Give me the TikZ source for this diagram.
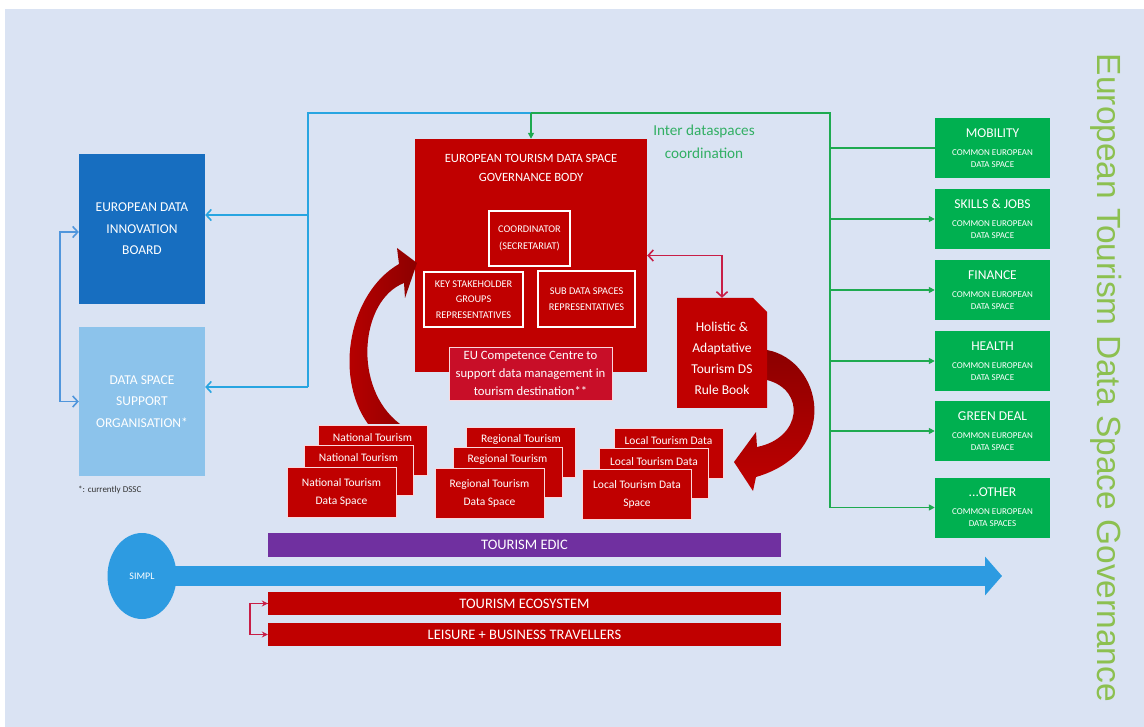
\documentclass[tikz,border=0pt]{standalone}
\usepackage{fontspec}
\setmainfont{Carlito}
\newfontfamily\arialf{Liberation Sans}
\usetikzlibrary{arrows.meta,shapes.geometric}
\definecolor{bgc}{RGB}{218,227,243}
\definecolor{edibc}{RGB}{23,110,192}
\definecolor{dssoc}{RGB}{140,195,235}
\definecolor{bluec}{RGB}{40,165,225}
\definecolor{lbluec}{RGB}{80,150,220}
\definecolor{redA}{RGB}{192,0,0}
\definecolor{redB}{RGB}{200,14,40}
\definecolor{redD}{RGB}{140,0,0}
\definecolor{crim}{RGB}{200,30,70}
\definecolor{pinkl}{RGB}{250,215,220}
\definecolor{purp}{RGB}{112,48,160}
\definecolor{greenb}{RGB}{0,176,80}
\definecolor{greenl}{RGB}{30,170,80}
\definecolor{greent}{RGB}{50,175,100}
\definecolor{titleg}{RGB}{140,192,80}
\definecolor{simplc}{RGB}{45,155,225}
\newcommand{\gtt}{\fontsize{13.5}{15}\selectfont}
\newcommand{\gss}{\fontsize{9}{13}\selectfont}
\tikzset{
  box/.style={rectangle, inner sep=0pt, align=center, text=white},
  card/.style={box, fill=redA, draw=pinkl, line width=0.8pt, minimum width=109pt, minimum height=50pt, font=\fontsize{11.5}{18}\selectfont},
  cardtxt/.style={inner sep=0pt, text=white, font=\fontsize{11.5}{18}\selectfont},
  gbox/.style={box, fill=greenb, minimum width=115pt, minimum height=60pt},
  wbox/.style={box, draw=white, line width=1.3pt, font=\fontsize{10.3}{15.5}\selectfont},
  bar/.style={box, minimum width=513pt, font=\fontsize{14.5}{16}\selectfont},
  blc/.style={draw=bluec, line width=1.6pt},
  lblc/.style={draw=lbluec, line width=1.6pt},
  grc/.style={draw=greenl, line width=1.6pt},
  crc/.style={draw=crim, line width=1.6pt},
  barb/.style={-{Straight Barb[length=5pt,width=11pt]}},
  dbarb/.style={{Straight Barb[length=5pt,width=11pt]}-{Straight Barb[length=5pt,width=11pt]}},
  gtip/.style={-{Triangle[length=6pt,width=6pt]}}
}
\begin{document}
\begin{tikzpicture}[x=1pt,y=-1pt]
\useasboundingbox (0,0) rectangle (1144,727);
\fill[white] (0,0) rectangle (1144,727);
\fill[bgc] (5,9) rectangle (1144,727);

% left boxes
\node[box, fill=edibc, minimum width=126pt, minimum height=150pt, font=\fontsize{13.5}{21.5}\selectfont] (edib) at (142,229) {EUROPEAN DATA\\INNOVATION\\BOARD};
\node[box, fill=dssoc, minimum width=126pt, minimum height=149pt, font=\fontsize{13.5}{21.5}\selectfont] (dsso) at (142,401.5) {DATA SPACE\\SUPPORT\\ORGANISATION*};
\node[anchor=west, inner sep=0pt, font=\fontsize{9}{10}\selectfont, text=black!80] (note) at (78,490) {*: currently DSSC};
\draw[lblc, dbarb] ([yshift=-3pt]edib.west) -- ++(-19,0) |- (dsso.west);

% governance body
\node[box, fill=redA, minimum width=232pt, minimum height=233pt] (gov) at (531,255.5) {};
\node[box, font=\fontsize{12.6}{19}\selectfont] (govt) at (531,167.5) {EUROPEAN TOURISM DATA SPACE\\GOVERNANCE BODY};
\node[wbox, minimum width=81pt, minimum height=55pt, font=\fontsize{10.3}{17.5}\selectfont] (coord) at (529.5,238.5) {COORDINATOR\\(SECRETARIAT)};
\node[wbox, minimum width=99pt, minimum height=55pt] (key) at (473.5,299.5) {KEY STAKEHOLDER\\GROUPS\\REPRESENTATIVES};
\node[wbox, minimum width=97pt, minimum height=56pt] (sub) at (586.5,299) {SUB DATA SPACES\\REPRESENTATIVES};
\node[box, fill=redB, draw=pinkl, line width=0.8pt, minimum width=163pt, minimum height=53pt, font=\fontsize{12.7}{18}\selectfont] (eucc) at (530.5,373.5) {EU Competence Centre to\\support data management in\\tourism destination**};

% connectors top
\coordinate (gc) at (531,113);
\coordinate (bc) at (308,113);
\coordinate (gt) at (830,113);
\coordinate (edibin) at ([yshift=14pt]edib.east);
\coordinate (dssoin) at ([yshift=14.5pt]dsso.east);
\draw[blc] (gc) -- (bc) -- (bc |- dssoin);
\draw[blc, barb] (bc |- edibin) -- (edibin);
\draw[blc, barb] (bc |- dssoin) -- (dssoin);
\draw[grc, gtip] (gc) -- (gov.north);
\node[inner sep=0pt, align=center, text=greent, font=\fontsize{15.2}{23}\selectfont] (inter) at (704,141.5) {Inter dataspaces\\coordination};

% green boxes
\node[gbox] (mob) at (992.5,148) {\gtt MOBILITY\\[6pt]\gss COMMON EUROPEAN\\\gss DATA SPACE};
\node[gbox] (skill) at (992.5,219) {\gtt SKILLS \& JOBS\\[6pt]\gss COMMON EUROPEAN\\\gss DATA SPACE};
\node[gbox] (fin) at (992.5,290) {\gtt FINANCE\\[6pt]\gss COMMON EUROPEAN\\\gss DATA SPACE};
\node[gbox] (health) at (992.5,361) {\gtt HEALTH\\[6pt]\gss COMMON EUROPEAN\\\gss DATA SPACE};
\node[gbox] (green) at (992.5,431) {\gtt GREEN DEAL\\[6pt]\gss COMMON EUROPEAN\\\gss DATA SPACE};
\node[gbox] (other) at (992.5,507.5) {\gtt ...OTHER\\[6pt]\gss COMMON EUROPEAN\\\gss DATA SPACES};
\draw[grc] (gc) -- (gt) -- (gt |- other.west);
\draw[grc] (gt |- mob.west) -- (mob.west);
\draw[grc, gtip] (gt |- skill.west) -- (skill.west);
\draw[grc, gtip] (gt |- fin.west) -- (fin.west);
\draw[grc, gtip] (gt |- health.west) -- (health.west);
\draw[grc, gtip] (gt |- green.west) -- (green.west);
\draw[grc, gtip] (gt |- other.west) -- (other.west);

% curved arrows
\shade[left color=redA, right color=redD] (368,424) .. controls (333,375) and (350,292) .. (399,264) -- (397,248) -- (417,263) -- (405,298) -- (404,283) .. controls (360,300) and (352,388) .. (400,424) -- cycle;
\shade[top color=redD, bottom color=redA] (767,350) .. controls (822,360) and (842,452) .. (756,477) -- (753,491) -- (734,462) -- (756,432) -- (757,447) .. controls (802,438) and (806,390) .. (767,380) -- cycle;

% rule book
\fill[redA] (677,298) -- (753,298) -- (767,312) -- (767,408) -- (677,408) -- cycle;
\node[box, minimum width=90pt, minimum height=110pt] (rb) at (722,353) {};
\node[box, font=\fontsize{13.5}{21}\selectfont] (rbt) at (722,358) {Holistic \&\\Adaptative\\Tourism DS\\Rule Book};
\draw[crc, dbarb] (gov.east) -| (rb.north);

% data space cards (back ones show only their first line)
\node[card] (n1) at (372.5,450) {};
\node[cardtxt] (n1t) at ([yshift=-13pt]n1.north) {National Tourism};
\node[card] (n2) at (358.5,470) {};
\node[cardtxt] (n2t) at ([yshift=-13pt]n2.north) {National Tourism};
\node[card] (n3) at (341.5,492) {National Tourism\\Data Space};
\node[card] (r1) at (521,452) {};
\node[cardtxt] (r1t) at ([yshift=-13pt]r1.north) {Regional Tourism};
\node[card] (r2) at (507.5,472) {};
\node[cardtxt] (r2t) at ([yshift=-13pt]r2.north) {Regional Tourism};
\node[card] (r3) at (489.5,493) {Regional Tourism\\Data Space};
\node[card] (l1) at (668.5,453) {};
\node[cardtxt] (l1t) at ([yshift=-13pt]l1.north) {Local Tourism Data};
\node[card] (l2) at (654,473.5) {};
\node[cardtxt] (l2t) at ([yshift=-13pt]l2.north) {Local Tourism Data};
\node[card] (l3) at (637,494.5) {Local Tourism Data\\Space};

% bottom
\node[bar, fill=purp, minimum height=24pt] (edic) at (524.5,545) {TOURISM EDIC};
\node[ellipse, fill=simplc, minimum width=69pt, minimum height=86pt, inner sep=0pt, text=white, font=\fontsize{10}{12}\selectfont] (simpl) at (142,576) {SIMPL};
\coordinate (simplend) at (1002,576);
\draw[draw=simplc, line width=20pt, -{Triangle[length=17pt,width=38pt]}] ([xshift=-6pt]simpl.east) -- (simplend);
\node[bar, fill=redA, minimum height=23pt] (eco) at (524.5,603.5) {TOURISM ECOSYSTEM};
\node[bar, fill=redA, minimum height=23pt] (leis) at (524.5,634.5) {LEISURE + BUSINESS TRAVELLERS};
\draw[crc, -{Stealth[length=6pt,width=6pt]}] (eco.west) -- ++(-18,0) |- (leis.west);
\draw[crc, -{Stealth[length=6pt,width=6pt]}] ([xshift=-18pt]eco.west) -- (eco.west);

% vertical title
\node[rotate=-90, inner sep=0pt, text=titleg, font=\arialf\fontsize{33.5}{36}\selectfont] (vt) at (1106,378) {European Tourism Data Space Governance};
\end{tikzpicture}
\end{document}
